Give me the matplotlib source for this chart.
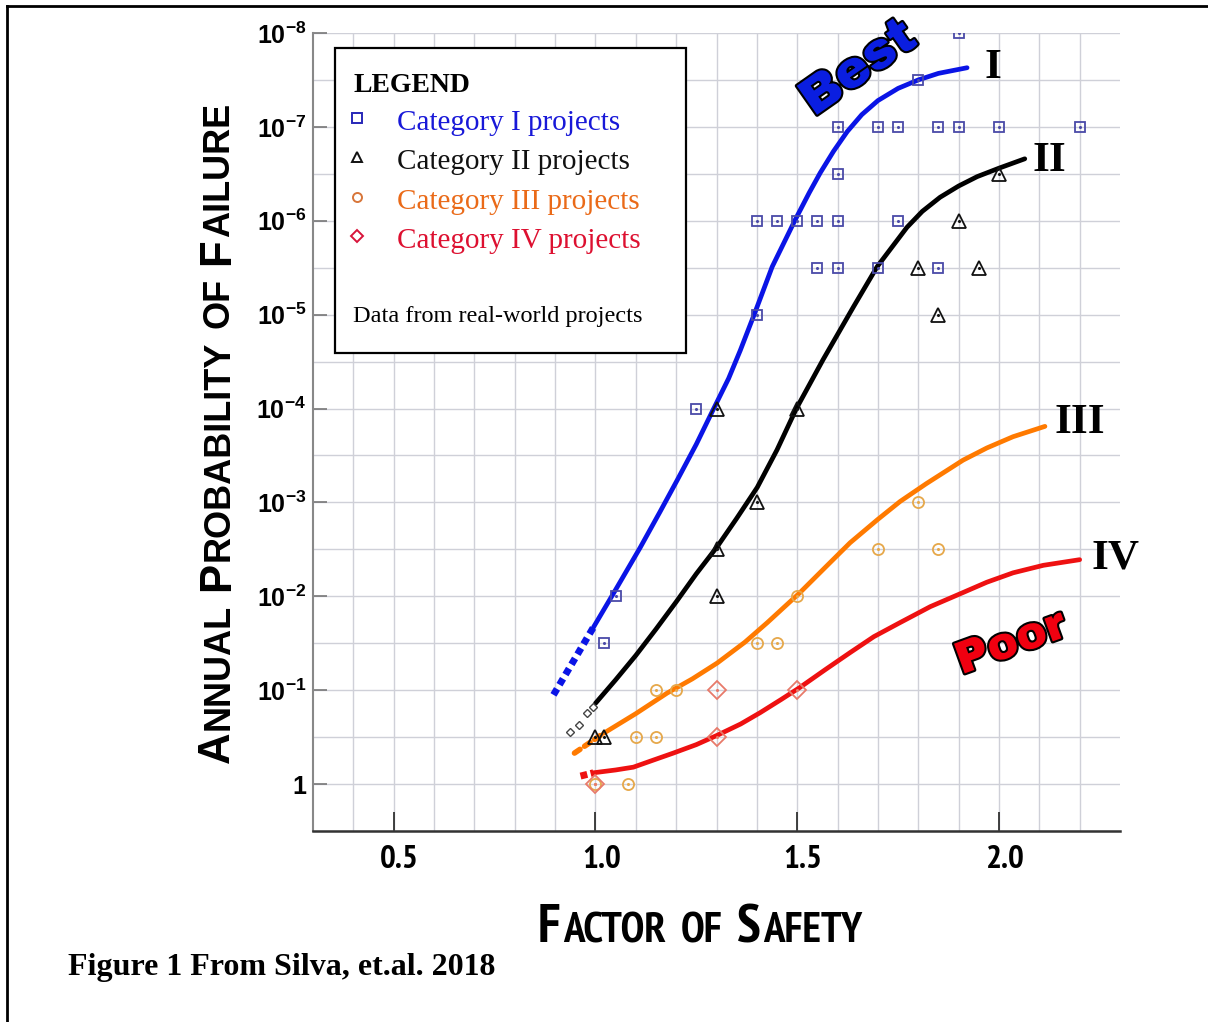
import numpy as np
import matplotlib
matplotlib.use("Agg")
import matplotlib.pyplot as plt
import matplotlib.patheffects as pe
from matplotlib.lines import Line2D
from matplotlib.patches import Rectangle
from matplotlib.ticker import FixedLocator
from matplotlib.transforms import IdentityTransform, ScaledTranslation

plt.rcParams["mathtext.fontset"] = "custom"
plt.rcParams["mathtext.rm"] = "Liberation Sans"
plt.rcParams["mathtext.bf"] = "Liberation Sans:bold"

W, H = 1208, 1022
NARROW = ["PT Sans Narrow", "Liberation Sans"]

# project data points: factor of safety and log10 of annual probability of failure
cat1_fs = [1.9, 1.8, 1.6, 1.7, 1.75, 1.85, 1.9, 2.0, 2.2, 1.6,
           1.4, 1.45, 1.5, 1.55, 1.6, 1.75, 1.55, 1.6, 1.7, 1.85,
           1.4, 1.25, 1.05, 1.02]
cat1_logp = [-8, -7.5, -7, -7, -7, -7, -7, -7, -7, -6.5,
             -6, -6, -6, -6, -6, -6, -5.5, -5.5, -5.5, -5.5,
             -5, -4, -2, -1.5]
cat2_fs = [2.0, 1.9, 1.8, 1.95, 1.85, 1.3, 1.5, 1.4, 1.3, 1.3, 1.0, 1.02]
cat2_logp = [-6.5, -6, -5.5, -5.5, -5, -4, -4, -3, -2.5, -2, -0.5, -0.5]
cat3_fs = [1.8, 1.7, 1.85, 1.5, 1.4, 1.45, 1.15, 1.2, 1.1, 1.15, 1.08, 1.0]
cat3_logp = [-3, -2.5, -2.5, -2, -1.5, -1.5, -1, -1, -0.5, -0.5, 0, 0]
cat4_fs = [1.0, 1.3, 1.3, 1.5]
cat4_logp = [0, -1, -0.5, -1]

# trend curves
curve1_fs = [0.995, 1.05, 1.111, 1.16, 1.203, 1.25, 1.292, 1.33, 1.359, 1.396,
             1.438, 1.495, 1.53, 1.557, 1.59, 1.624, 1.66, 1.70, 1.75, 1.80,
             1.85, 1.921]
curve1_logp = [-1.67, -2.07, -2.52, -2.90, -3.24, -3.62, -3.99, -4.32, -4.62,
               -5.03, -5.51, -6.01, -6.30, -6.51, -6.74, -6.95, -7.13, -7.28,
               -7.41, -7.50, -7.57, -7.63]
curve2_fs = [1.0, 1.05, 1.1, 1.15, 1.2, 1.25, 1.302, 1.35, 1.401, 1.45,
             1.498, 1.564, 1.639, 1.698, 1.772, 1.81, 1.854, 1.90, 1.946,
             2.0, 2.064]
curve2_logp = [-0.86, -1.11, -1.37, -1.65, -1.94, -2.24, -2.53, -2.83, -3.16,
               -3.56, -4.0, -4.52, -5.08, -5.51, -5.93, -6.10, -6.25, -6.37,
               -6.47, -6.56, -6.66]
curve3_fs = [1.02, 1.10, 1.178, 1.24, 1.302, 1.37, 1.426, 1.507, 1.57, 1.631,
             1.70, 1.755, 1.82, 1.911, 1.97, 2.035, 2.114]
curve3_logp = [-0.54, -0.75, -0.97, -1.12, -1.29, -1.51, -1.72, -2.04, -2.31,
               -2.57, -2.82, -3.01, -3.20, -3.45, -3.58, -3.70, -3.81]
curve4_fs = [0.995, 1.05, 1.094, 1.14, 1.193, 1.25, 1.302, 1.36, 1.408, 1.46,
             1.507, 1.57, 1.631, 1.69, 1.755, 1.83, 1.911, 1.97, 2.035, 2.11,
             2.2]
curve4_logp = [-0.12, -0.15, -0.18, -0.25, -0.33, -0.42, -0.52, -0.64, -0.76,
               -0.90, -1.03, -1.22, -1.40, -1.57, -1.72, -1.89, -2.04, -2.15,
               -2.25, -2.33, -2.39]

# extrapolated stubs below FS = 1
ext1_fs, ext1_logp = [0.896, 0.995], [-0.95, -1.67]
ext2_fs, ext2_logp = [0.938, 0.958, 0.980, 0.995], [-0.55, -0.63, -0.76, -0.82]
ext3_fs, ext3_logp = [0.948, 1.02], [-0.33, -0.54]
ext4_fs, ext4_logp = [0.963, 0.995], [-0.085, -0.12]

ytick_exp = [0, -1, -2, -3, -4, -5, -6, -7, -8]
xtick_vals = [0.5, 1.0, 1.5, 2.0]
xtick_labels = ["0.5", "1.0", "1.5", "2.0"]

legend_items = ["Category I projects", "Category II projects",
                "Category III projects", "Category IV projects"]

BLUE, BLACK, ORANGE, RED = "#0a14e6", "#000000", "#ff7a00", "#ee1111"


def p(v):
    return 10.0 ** np.asarray(v, dtype=float)


fig = plt.figure(figsize=(W / 100, H / 100), dpi=100)
ax = fig.add_axes([313 / W, 1 - 831 / H, 807 / W, 798 / H])

ax.set_xlim(0.3, 2.3)
ax.set_yscale("log")
ax.set_ylim(10 ** 0.5, 1e-8)

ax.set_xticks(xtick_vals, xtick_labels)
ax.xaxis.set_minor_locator(FixedLocator(np.round(np.arange(0.4, 2.25, 0.1), 2)))
ax.set_yticks(p(ytick_exp),
              ["1"] + [r"$\mathbf{10^{%d}}$" % e for e in ytick_exp[1:]])
ax.yaxis.set_minor_locator(FixedLocator(p(np.arange(-7.5, 0.6, 1.0))))
ax.grid(which="both", color="#cfd0d8", lw=1.0)
ax.set_axisbelow(True)

ax.tick_params(axis="y", which="major", direction="in", length=10, width=1.2,
               color="#777777", pad=5, labelsize=18)
ax.tick_params(axis="x", which="major", direction="in", length=14, width=1.2,
               color="#222222", pad=10, labelsize=24)
ax.tick_params(which="minor", length=0)
for lab in ax.get_yticklabels():
    lab.set_fontfamily("Liberation Sans")
    lab.set_fontweight("bold")
for lab in ax.get_xticklabels():
    lab.set_fontfamily(NARROW)
    lab.set_fontweight("bold")
    lab.set_transform(lab.get_transform() +
                      ScaledTranslation(6 / 100, 0, fig.dpi_scale_trans))

for s in ["top", "right"]:
    ax.spines[s].set_visible(False)
ax.spines["left"].set_color("#888888")
ax.spines["left"].set_linewidth(1.5)
ax.spines["bottom"].set_color("#333333")
ax.spines["bottom"].set_linewidth(1.8)

# curves
for cx, cy, col in [(curve1_fs, curve1_logp, BLUE), (curve2_fs, curve2_logp, BLACK),
                    (curve3_fs, curve3_logp, ORANGE), (curve4_fs, curve4_logp, RED)]:
    ax.plot(cx, p(cy), color=col, lw=3.4, solid_joinstyle="round",
            solid_capstyle="round", zorder=3)

ax.plot(ext1_fs, p(ext1_logp), color=BLUE, lw=5, ls=(0, (1.0, 0.7)), zorder=3)
ax.plot(ext2_fs, p(ext2_logp), ls="none", marker="D", ms=4.5, mfc="white",
        mec="#444444", mew=1.0, zorder=3)
ax.plot(ext3_fs, p(ext3_logp), color=ORANGE, lw=4, ls=(0, (1.2, 1.0)),
        dash_capstyle="round", zorder=3)
ax.plot(ext4_fs, p(ext4_logp), color=RED, lw=5, ls=(0, (1.0, 0.5)), zorder=3)


# data points (hollow marker with dot in the middle)
def points(fs, logp, marker, ms, color):
    ax.plot(fs, p(logp), ls="none", marker=marker, ms=ms, mfc="none",
            mec=color, mew=1.3, zorder=4)
    ax.plot(fs, p(logp), ls="none", marker="o", ms=2.2, mfc=color,
            mec=color, mew=0, zorder=4)


points(cat1_fs, cat1_logp, "s", 7, "#4a4aa8")
points(cat3_fs, cat3_logp, "o", 8, "#e6a84a")
points(cat4_fs, cat4_logp, "D", 9, "#e87a6a")
points(cat2_fs, cat2_logp, "^", 10.5, "#111111")

# curve labels
for lbl, fs, lp in [("I", 1.985, -7.63), ("II", 2.126, -6.64),
                    ("III", 2.201, -3.85), ("IV", 2.29, -2.40)]:
    ax.text(fs, 10 ** lp, lbl, ha="center", va="center", fontsize=31,
            fontweight="bold", family="Liberation Serif", clip_on=False,
            zorder=5)

outline = [pe.withStroke(linewidth=3.0, foreground="black")]
ax.text(1.652, 10 ** -7.62, "Best", rotation=35, ha="center", va="center",
        fontsize=37, family=["Archivo Black", "DejaVu Sans"], fontweight="bold",
        color="#0a1ee0", path_effects=outline, zorder=6)
ax.text(2.03, 10 ** -1.5, "Poor", rotation=20, ha="center", va="center",
        fontsize=33, family=["Archivo Black", "DejaVu Sans"], fontweight="bold",
        color="#f00010", path_effects=outline, zorder=6)


# legend box
def fx(px):
    return px / W


def fy(py):
    return 1 - py / H


fig.add_artist(Rectangle((fx(335), fy(353)), fx(686) - fx(335), fy(48) - fy(353),
                         transform=fig.transFigure, facecolor="white",
                         edgecolor="black", lw=1.6, zorder=10))
fig.text(fx(353), fy(92), "LEGEND", family="Liberation Serif", fontweight="bold",
         fontsize=20, va="baseline", zorder=11)
leg_text_colors = ["#1818d8", "#111111", "#ea6a18", "#dd1030"]
leg_marker = ["s", "^", "o", "D"]
leg_marker_colors = ["#2828b8", "#111111", "#d8763a", "#d8143a"]
leg_base = [130, 169, 209, 248]
for name, tc, mk, mc, yb in zip(legend_items, leg_text_colors, leg_marker,
                                leg_marker_colors, leg_base):
    fig.add_artist(Line2D([fx(357)], [fy(yb - 12)], transform=fig.transFigure,
                          ls="none", marker=mk, ms=6.5, mfc="none", mec=mc,
                          mew=1.4, zorder=11))
    fig.text(fx(397), fy(yb), name, family="Liberation Serif", fontsize=21,
             color=tc, va="baseline", zorder=11)
fig.text(fx(353), fy(322), "Data from real-world projects",
         family="Liberation Serif", fontsize=17.5, va="baseline", zorder=11)

# small-caps axis titles
renderer = fig.canvas.get_renderer()


def caps_title(parts, x0, y0, vertical, family, big, small, space, gap=1.5):
    pos = y0 if vertical else x0
    for s, is_big in parts:
        if s == " ":
            pos += space
            continue
        kw = dict(transform=IdentityTransform(), family=family,
                  fontweight="bold", fontsize=big if is_big else small,
                  ha="left", va="baseline")
        if vertical:
            t = fig.text(x0, pos, s, rotation=90, rotation_mode="anchor", **kw)
            pos += t.get_window_extent(renderer).height + gap
        else:
            t = fig.text(pos, y0, s, **kw)
            pos += t.get_window_extent(renderer).width + gap


ylabel_parts = [("A", True), ("NNUAL", False), (" ", False), ("P", True),
                ("ROBABILITY", False), (" ", False), ("OF", False), (" ", False),
                ("F", True), ("AILURE", False)]
caps_title(ylabel_parts, 229, H - 763, True, "Liberation Sans", 31.5, 26, 11)

xlabel_parts = [("F", True), ("ACTOR", False), (" ", False), ("OF", False),
                (" ", False), ("S", True), ("AFETY", False)]
caps_title(xlabel_parts, 538, H - 942, False, NARROW, 39, 31, 12, gap=2.5)

fig.text(fx(68), fy(975), "Figure 1 From Silva, et.al. 2018",
         family="Liberation Serif", fontweight="bold", fontsize=23,
         va="baseline")

# page frame
fig.add_artist(Line2D([fx(6.5), 1], [fy(6.5), fy(6.5)], color="black", lw=2,
                      transform=fig.transFigure))
fig.add_artist(Line2D([fx(6.5), fx(6.5)], [0, fy(6.5)], color="black", lw=2,
                      transform=fig.transFigure))

fig.savefig("out.png", dpi=100)
